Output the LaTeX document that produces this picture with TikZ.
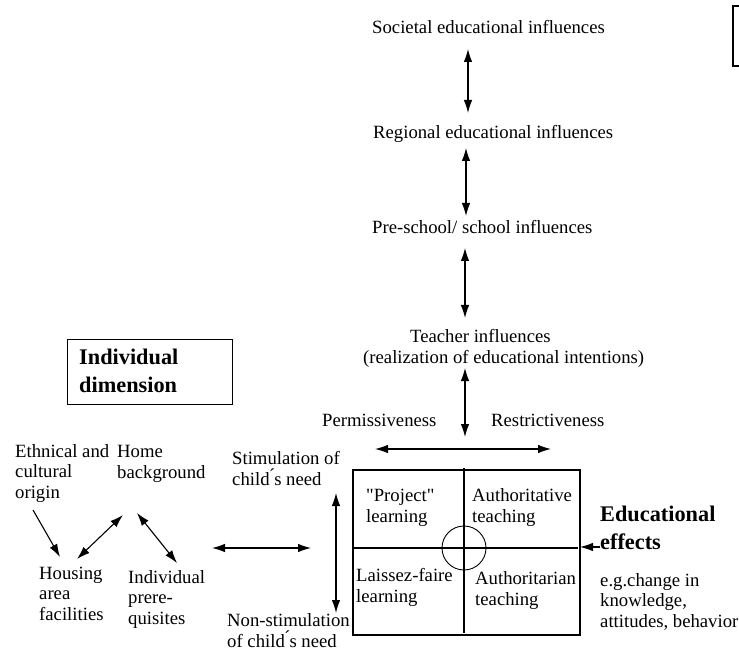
\documentclass[tikz,border=0pt]{standalone}
\usepackage{fontspec}
\setmainfont{Liberation Serif}[Ligatures=TeXOff]
\usetikzlibrary{arrows.meta}
\tikzset{
  txt/.style={inner sep=0pt, anchor=base west, align=left, font=\fontsize{18.7}{20.5}\selectfont},
  bigtxt/.style={inner sep=0pt, anchor=base west, align=left, font=\fontsize{22.3}{28}\selectfont\bfseries},
  arr/.style={line width=1.1pt, -{Latex[length=13pt,width=8.5pt]}},
  darr/.style={line width=1.1pt, {Latex[length=13pt,width=8.5pt]}-{Latex[length=13pt,width=8.5pt]}},
  frame/.style={line width=1.1pt}
}
\begin{document}
\begin{tikzpicture}[x=1pt,y=-1pt]
\useasboundingbox (0,0) rectangle (739,652);
% partial box at top right
\draw[frame] (739,6) -- (733,6) -- (733,66) -- (739,66);
% top chain
\node[txt] (soc) at (372,34) {Societal educational influences};
\node[txt] (reg) at (373,139) {Regional educational influences};
\node[txt] (pre) at (372,234) {Pre-school/ school influences};
\node[txt] (tea) at (363,363) {\hspace*{47pt}Teacher influences\\(realization of educational intentions)};
\coordinate (a1t) at (468,49); \coordinate (a1b) at (468,113);
\coordinate (a2t) at (466,148); \coordinate (a2b) at (466,216);
\coordinate (a3t) at (465,248); \coordinate (a3b) at (465,318);
\coordinate (a4t) at (465,368); \coordinate (a4b) at (465,437);
\draw[darr] (a1t) -- (a1b);
\draw[darr] (a2t) -- (a2b);
\draw[darr] (a3t) -- (a3b);
\draw[darr] (a4t) -- (a4b);
\node[txt] (perm) at (322,426) {Permissiveness};
\node[txt] (rest) at (491,426) {Restrictiveness};
\coordinate (hl) at (375,449); \coordinate (hr) at (551,449);
\draw[darr] (hl) -- (hr);
% main box
\coordinate (bx1) at (353,470); \coordinate (bx2) at (580,635);
\draw[frame] (bx1) rectangle (bx2);
\coordinate (vt) at (464,468); \coordinate (vb) at (464,633);
\coordinate (hL) at (353,548); \coordinate (hR) at (578,548);
\draw[frame] (vt) -- (vb);
\draw[frame] (hL) -- (hR);
\node[draw, circle, line width=0.9pt, minimum size=44pt, inner sep=0pt] (circ) at (464,548) {};
\node[txt] (proj) at (366,522) {"Project"\\learning};
\node[txt] (auth1) at (472,522) {Authoritative\\teaching};
\node[txt] (lais) at (356,602) {Laissez-faire\\learning};
\node[txt] (auth2) at (475,605) {Authoritarian\\teaching};
% educational effects
\node[bigtxt] (eff) at (600,549) {Educational\\effects};
\node[txt] (eg) at (600,627) {e.g.change in\\knowledge,\\attitudes, behavior};
\coordinate (ein) at (600,547);
\draw[arr] (ein) -- (bx2 |- ein);
% individual dimension
\node[draw, frame, minimum width=165pt, minimum height=65pt, anchor=north west] (ind) at (67,339) {};
\node[bigtxt] (indt) at (79,392) {Individual\\dimension};
\node[txt] (eth) at (15,498) {Ethnical and\\cultural\\origin};
\node[txt] (home) at (117,478) {Home\\background};
\node[txt] (stim) at (232,485) {Stimulation of\\child\'{}s need};
\node[txt] (hous) at (39,620) {Housing\\area\\facilities};
\node[txt] (indp) at (128,624) {Individual\\prere-\\quisites};
\node[txt] (non) at (227,647) {Non-stimulation\\of child\'{}s need};
\coordinate (e1) at (33,510); \coordinate (e2) at (60,557);
\coordinate (h1) at (77,559); \coordinate (h2) at (123,515);
\coordinate (i1) at (137,513); \coordinate (i2) at (177,563);
\coordinate (m1) at (212,548); \coordinate (m2) at (311,548);
\coordinate (v1) at (336,493); \coordinate (v2) at (336,613);
\draw[arr] (e1) -- (e2);
\draw[darr] (h1) -- (h2);
\draw[darr] (i1) -- (i2);
\draw[darr] (m1) -- (m2);
\draw[darr] (v1) -- (v2);
\end{tikzpicture}
\end{document}
